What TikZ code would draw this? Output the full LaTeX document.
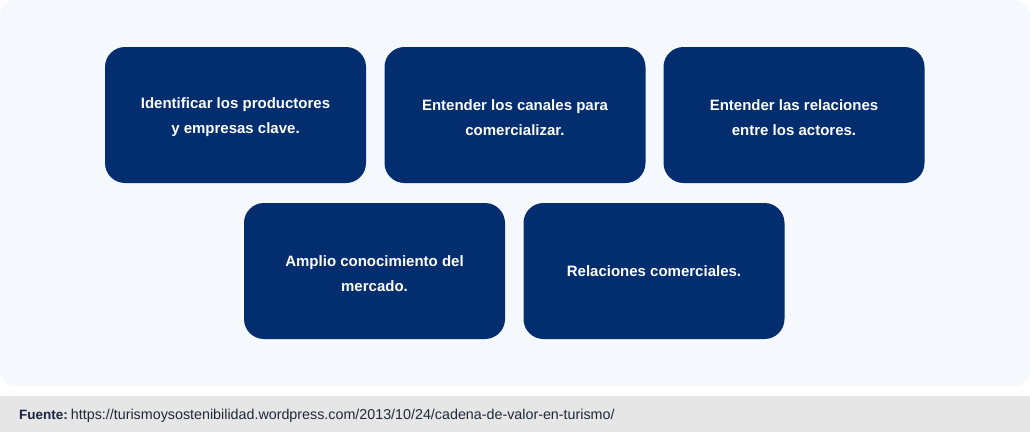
\documentclass[tikz,border=0pt]{standalone}
\usepackage{fontspec}
\setmainfont{Liberation Sans}
\definecolor{panel}{HTML}{F5F8FC}
\definecolor{boxc}{HTML}{022D6E}
\definecolor{foot}{HTML}{E6E6E6}
\definecolor{foottext}{HTML}{1F2937}
\definecolor{fuente}{HTML}{1A2440}
\begin{document}
\begin{tikzpicture}[x=1pt,y=-1pt,
  card/.style={fill=boxc,rounded corners=20pt,minimum width=261pt,minimum height=136pt,inner sep=0pt,draw=none},
  cardtext/.style={text=white,font=\fontsize{15}{25}\selectfont\bfseries,align=center,inner sep=0pt}]
\useasboundingbox (0,0) rectangle (1030,432);
\fill[white] (0,0) rectangle (1030,432);
\fill[panel,rounded corners=16pt] (0,0) rectangle (1030,386);
\fill[foot] (0,396) rectangle (1030,432);
\node[card] (c1) at (235.5,115) {};
\node[card] (c2) at (515,115) {};
\node[card] (c3) at (794,115) {};
\node[card] (c4) at (374.5,271) {};
\node[card] (c5) at (654,271) {};
\node[cardtext,yshift=-2.5pt] (t1) at (c1.center) {Identificar los productores\\y empresas clave.};
\node[cardtext,yshift=-2.5pt] (t2) at (c2.center) {Entender los canales para\\comercializar.};
\node[cardtext,yshift=-2.5pt] (t3) at (c3.center) {Entender las relaciones\\entre los actores.};
\node[cardtext,yshift=-2.5pt] (t4) at (c4.center) {Amplio conocimiento del\\mercado.};
\node[cardtext] (t5) at (c5.center) {Relaciones comerciales.};
\node[anchor=base west,inner sep=0pt,font=\fontsize{14.3}{16}\selectfont,text=foottext] (src) at (19,419)
  {{\fontsize{13.5}{16}\selectfont\bfseries\color{fuente}Fuente:}\hspace{3pt}https://turismoysostenibilidad.wordpress.com/2013/10/24/cadena-de-valor-en-turismo/};
\end{tikzpicture}
\end{document}
